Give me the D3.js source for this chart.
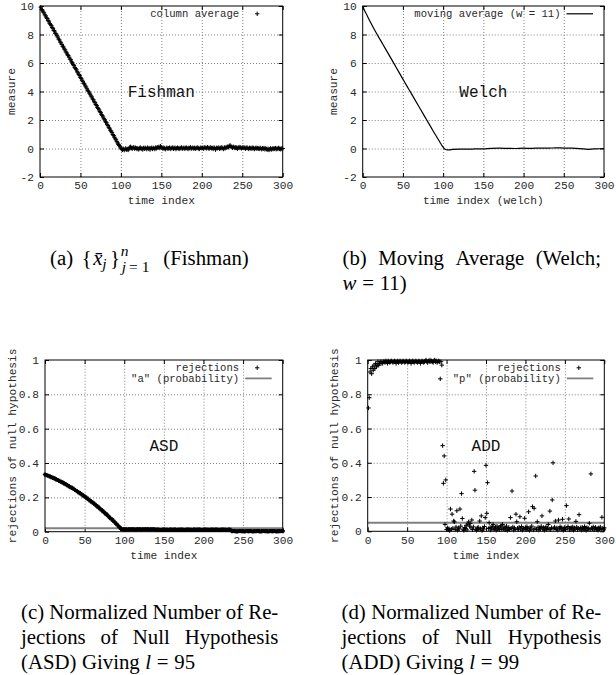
<!DOCTYPE html>
<html>
<head>
<meta charset="utf-8">
<script src="https://cdn.jsdelivr.net/npm/d3@7"></script>
<style>
  html, body { margin: 0; padding: 0; background: #fff; }
  svg { display: block; }
</style>
</head>
<body>
<svg id="fig" width="616" height="675"></svg>
<script>
// ---------------- data ----------------
const xTicks = [0, 50, 100, 150, 200, 250, 300];
const measureTicks = [-2, 0, 2, 4, 6, 8, 10];
const rejectionTicks = [0, 0.2, 0.4, 0.6, 0.8, 1];
const rejectionTickLabels = ["0", "0.2", "0.4", "0.6", "0.8", "1"];

// (a) column averages, time index 1..300
const fishmanIndex = d3.range(1, 301);
const fishmanMeasure = [
  9.92,9.75,9.71,9.58,9.52,9.38,9.31,9.18,9.12,8.97,
  8.93,8.78,8.71,8.62,8.49,8.43,8.28,8.24,8.08,8.03,
  7.91,7.82,7.68,7.62,7.47,7.41,7.30,7.18,7.12,6.98,
  6.92,6.78,6.71,6.58,6.52,6.41,6.28,6.23,6.08,6.02,
  5.89,5.83,5.68,5.61,5.52,5.38,5.31,5.19,5.12,4.98,
  4.92,4.79,4.71,4.58,4.52,4.39,4.31,4.19,4.08,4.01,
  3.89,3.81,3.69,3.62,3.48,3.42,3.28,3.22,3.09,3.02,
  2.88,2.81,2.71,2.59,2.52,2.38,2.31,2.21,2.09,2.02,
  1.88,1.82,1.69,1.61,1.49,1.42,1.28,1.21,1.11,0.98,
  0.91,0.79,0.68,0.61,0.48,0.39,0.28,0.21,0.12,0.03,
  -0.05,-0.09,-0.02,-0.11,-0.06,0.01,-0.08,-0.04,-0.10,-0.03,
  0.08,0.12,0.04,-0.02,0.06,0.09,-0.01,0.05,0.02,-0.04,
  0.03,-0.06,0.01,0.07,-0.03,0.02,-0.07,0.04,-0.02,0.05,
  0.01,-0.05,0.06,-0.01,0.03,-0.08,0.02,0.05,-0.03,0.04,
  0.02,-0.04,0.07,0.01,0.09,0.05,0.12,0.03,0.16,0.08,
  0.04,-0.02,0.06,0.01,-0.05,0.03,0.05,-0.01,0.02,0.06,
  -0.03,0.04,0.01,0.07,-0.02,0.03,0.05,-0.04,0.02,0.06,
  0.01,-0.03,0.04,0.02,0.07,-0.01,0.03,0.05,-0.02,0.04,
  0.06,0.01,-0.03,0.05,0.02,0.08,-0.01,0.03,0.06,0.00,
  0.04,-0.02,0.05,0.02,0.07,0.01,-0.03,0.04,0.06,0.02,
  0.05,-0.01,0.08,0.03,0.06,0.01,0.09,0.04,-0.02,0.05,
  0.07,0.02,0.04,-0.03,0.06,0.03,-0.08,0.05,0.01,0.04,
  0.06,-0.02,0.03,0.08,0.01,0.05,-0.04,0.07,0.02,0.10,
  0.06,0.13,0.09,0.18,0.22,0.14,0.10,0.05,0.12,0.07,
  0.03,0.09,0.05,-0.02,0.06,0.10,0.04,0.07,0.01,0.05,
  0.08,0.03,0.06,-0.01,0.04,0.07,0.02,-0.03,0.05,0.01,
  0.04,-0.02,0.06,0.03,-0.04,0.02,0.05,-0.01,0.03,0.00,
  -0.03,0.04,0.01,-0.05,0.02,-0.02,0.03,-0.06,0.01,-0.04,
  -0.08,-0.02,-0.10,-0.05,0.01,-0.07,-0.03,0.02,-0.04,-0.01,
  0.03,-0.05,0.01,-0.03,0.04,-0.02,-0.06,0.01,-0.03,0.00
];

// (b) Welch moving average, w = 11
const welchIndex = [0,2,5,10,15,20,25,30,35,40,45,50,55,60,65,70,75,80,85,90,
  95,97,99,101,103,105,108,112,120,130,140,150,160,170,180,190,200,210,220,230,
  240,250,260,270,280,285,290,300];
const welchMeasure = [10.0,9.72,9.38,8.82,8.30,7.80,7.32,6.83,6.34,5.85,5.36,4.87,4.38,3.90,3.41,2.93,2.45,1.96,1.48,1.00,
  0.54,0.35,0.17,0.02,-0.07,-0.10,-0.09,-0.06,-0.04,-0.05,-0.03,-0.02,0.01,0.02,0.01,0.00,0.02,0.01,0.03,0.02,
  0.05,0.03,0.02,-0.01,-0.06,-0.04,-0.02,0.00];

// (c) ASD rejections, time index 0,2,...,300
const asdIndex = d3.range(0, 301, 2);
const asdRejections = [
  .333,.329,.326,.322,.318,.314,.310,.305,.301,.296,
  .291,.287,.282,.277,.271,.266,.260,.255,.249,.243,
  .237,.231,.225,.218,.212,.205,.198,.191,.184,.177,
  .170,.163,.155,.147,.140,.132,.124,.115,.107,.099,
  .090,.081,.073,.064,.055,.046,.036,.027,.017,
  .013,.014,.013,.012,.014,.013,.013,.014,.012,.013,.014,.013,.012,.013,.014,.013,.013,.012,.014,.013,.013,
  .011,.012,.011,.010,.011,.012,.011,.011,.010,.012,.011,.011,.012,.010,.011,.011,.012,.011,.010,.011,
  .012,.011,.011,.010,.012,.011,.011,.012,.011,.010,.011,.012,.011,.011,.010,.012,.011,.011,.012,.011,
  .010,.011,.012,.011,.011,.010,.012,.011,
  .003,.004,.003,.002,.003,.004,.003,.003,.002,.004,.003,.003,.004,.002,.003,.003,.004,.003,.002,.003,
  .004,.003,.003,.002,.004,.003,.003,.004,.002,.003,.003,.004,.003
];
const asdLevel = 0.02;   // "a" (probability)

// (d) ADD rejections, time index 1..300
const addIndex = d3.range(1, 301);
const addRejections = [
  .72,.78,.93,.95,.92,.96,.94,.97,.95,.98,
  .96,.97,.99,.97,.98,.99,.98,.99,.98,.99,
  .99,.985,.995,.99,.98,.995,.99,.985,.99,.995,
  .99,.985,.99,.995,.99,.98,.99,.995,.985,.99,
  .995,.99,.985,.99,.995,.99,.985,.99,.995,.99,
  .985,.99,.995,.99,.98,.99,.995,.99,.985,.99,
  .995,.99,.985,.99,.995,.99,.98,.99,.995,.99,
  .985,.99,.995,1.0,.99,.985,.995,.99,1.0,.99,
  .995,.99,.985,.995,1.0,.99,.995,.985,.99,.995,
  .99,.89,.99,.97,.50,.28,.44,.04,.30,.01,
  .02,.008,.015,.004,.13,.012,.10,.018,.06,.055,
  .01,.025,.12,.006,.02,.014,.13,.03,.22,.075,
  .012,.004,.022,.016,.035,.008,.042,.055,.03,.045,
  .02,.066,.01,.026,.35,.24,.012,.005,.018,.024,
  .01,.06,.015,.09,.004,.02,.013,.028,.08,.385,
  .105,.284,.016,.05,.022,.007,.019,.03,.04,.011,
  .018,.025,.006,.03,.014,.02,.009,.026,.033,.012,
  .04,.015,.024,.008,.019,.03,.005,.014,.022,.01,
  .08,.017,.235,.025,.007,.02,.012,.10,.056,.018,
  .009,.024,.085,.013,.028,.006,.019,.015,.076,.022,
  .01,.027,.016,.114,.005,.021,.013,.03,.144,.008,
  .134,.018,.323,.011,.056,.024,.007,.02,.015,.029,
  .09,.012,.022,.006,.017,.026,.01,.019,.04,.014,
  .118,.009,.021,.183,.40,.016,.025,.06,.011,.02,
  .007,.066,.018,.027,.012,.021,.07,.005,.016,.024,
  .01,.15,.019,.028,.072,.008,.017,.022,.012,.026,
  .006,.02,.014,.058,.025,.01,.018,.097,.013,.021,
  .007,.024,.016,.011,.028,.019,.005,.022,.013,.017,
  .047,.009,.335,.02,.014,.026,.008,.018,.023,.011,
  .016,.006,.021,.013,.025,.009,.082,.017,.012,.02
];
const addLevel = 0.05;   // "p" (probability)

// ---------------- drawing ----------------
const MONO = "'Liberation Mono','Courier New',monospace";
const SERIF = "'Liberation Serif','Times New Roman',serif";
const TICK_FS = 11.2;
const INK = "#2a2a2a";
const svg = d3.select("#fig");
const plus = s => `M${-s},0H${s}M0,${-s}V${s}`;

function drawPanel(cfg) {
  const g = svg.append("g");
  const x = d3.scaleLinear().domain([0, 300]).range([cfg.left, cfg.right]);
  const y = d3.scaleLinear().domain(cfg.yDomain).range([cfg.bottom, cfg.top]);
  const w = cfg.right - cfg.left, h = cfg.bottom - cfg.top;

  // dotted grid at inner major ticks
  const gridX = g.append("g").attr("transform", `translate(0,${cfg.bottom})`)
    .call(d3.axisBottom(x).tickValues(xTicks.slice(1, -1)).tickSize(-h).tickFormat(""));
  const gridY = g.append("g").attr("transform", `translate(${cfg.left},0)`)
    .call(d3.axisLeft(y).tickValues(cfg.yTicks.slice(1, -1)).tickSize(-w).tickFormat(""));
  [gridX, gridY].forEach(gg => {
    gg.select(".domain").remove();
    gg.selectAll("line").attr("stroke", "#808080").attr("stroke-width", 1)
      .attr("stroke-dasharray", "1,2");
  });

  // labelled axes with inward ticks
  const xAxis = g.append("g").attr("transform", `translate(0,${cfg.bottom})`)
    .call(d3.axisBottom(x).tickValues(xTicks).tickSizeInner(-4).tickSizeOuter(0).tickPadding(4.5));
  const yAxis = g.append("g").attr("transform", `translate(${cfg.left},0)`)
    .call(d3.axisLeft(y).tickValues(cfg.yTicks).tickSizeInner(-4).tickSizeOuter(0).tickPadding(6)
      .tickFormat((d, i) => cfg.yLabels[i]));
  // mirrored ticks
  const xTop = g.append("g").attr("transform", `translate(0,${cfg.top})`)
    .call(d3.axisTop(x).tickValues(xTicks).tickSizeInner(-4).tickSizeOuter(0).tickFormat(""));
  const yRight = g.append("g").attr("transform", `translate(${cfg.right},0)`)
    .call(d3.axisRight(y).tickValues(cfg.yTicks).tickSizeInner(-4).tickSizeOuter(0).tickFormat(""));
  [xAxis, yAxis, xTop, yRight].forEach(a => {
    a.select(".domain").remove();
    a.attr("font-family", MONO).attr("font-size", TICK_FS);
    a.selectAll("line").attr("stroke", "#000").attr("stroke-width", 1);
    a.selectAll("text").attr("fill", INK);
  });

  // reference level line
  if (cfg.level !== undefined) {
    g.append("line")
      .attr("x1", x(0)).attr("x2", x(300))
      .attr("y1", y(cfg.level)).attr("y2", y(cfg.level))
      .attr("stroke", "#7f7f7f").attr("stroke-width", 1.8);
  }

  // series
  if (cfg.kind === "points") {
    g.append("g").selectAll("path").data(cfg.xs).join("path")
      .attr("d", plus(cfg.pointSize || 2.2))
      .attr("transform", (d, i) => `translate(${x(d)},${y(cfg.ys[i])})`)
      .attr("stroke", "#000").attr("stroke-width", cfg.pointWidth || 1).attr("fill", "none");
  } else {
    const line = d3.line().curve(d3.curveMonotoneX).x((d, i) => x(cfg.xs[i])).y(d => y(d));
    g.append("path").datum(cfg.ys).attr("d", line)
      .attr("fill", "none").attr("stroke", "#000").attr("stroke-width", 1.2)
      .attr("stroke-linejoin", "round");
  }

  // frame
  g.append("rect").attr("x", cfg.left).attr("y", cfg.top).attr("width", w).attr("height", h)
    .attr("fill", "none").attr("stroke", "#000").attr("stroke-width", 1);

  // axis titles
  g.append("text").attr("x", (cfg.left + cfg.right) / 2).attr("y", cfg.bottom + 27.3)
    .attr("text-anchor", "middle").attr("font-family", MONO).attr("font-size", TICK_FS)
    .attr("fill", INK).text(cfg.xTitle);
  g.append("text")
    .attr("transform", `translate(${cfg.yTitleX},${(cfg.top + cfg.bottom) / 2}) rotate(-90)`)
    .attr("text-anchor", "middle").attr("font-family", MONO).attr("font-size", TICK_FS)
    .attr("fill", INK).text(cfg.yTitle);

  // panel name inside the plot
  g.append("text").attr("x", x(150)).attr("y", y(cfg.nameAt)).attr("dy", "0.32em")
    .attr("text-anchor", "middle").attr("font-family", MONO).attr("font-size", 16)
    .attr("fill", "#111").text(cfg.name);

  // key
  const kx = cfg.right - 43.5;
  cfg.key.forEach((k, i) => {
    const cy = cfg.top + 7.8 + i * 10.6;
    g.append("text").attr("x", kx).attr("y", cy + 3.4).attr("text-anchor", "end")
      .attr("font-family", MONO).attr("font-size", 10.6).attr("fill", INK).text(k.label);
    if (k.type === "point") {
      g.append("path").attr("d", plus(2.2)).attr("transform", `translate(${cfg.right - 25.5},${cy})`)
        .attr("stroke", "#000").attr("stroke-width", 1).attr("fill", "none");
    } else {
      g.append("line").attr("x1", cfg.right - 37.5).attr("x2", cfg.right - 11)
        .attr("y1", cy).attr("y2", cy)
        .attr("stroke", k.color).attr("stroke-width", k.width);
    }
  });
}

drawPanel({
  left: 40, right: 282.7, top: 6, bottom: 177,
  yDomain: [-2, 10], yTicks: measureTicks, yLabels: measureTicks.map(String),
  xTitle: "time index", yTitle: "measure", yTitleX: 15.4,
  kind: "points", xs: fishmanIndex, ys: fishmanMeasure,
  name: "Fishman", nameAt: 4,
  key: [{ label: "column average", type: "point" }]
});

drawPanel({
  left: 362.7, right: 604, top: 6, bottom: 177,
  yDomain: [-2, 10], yTicks: measureTicks, yLabels: measureTicks.map(String),
  xTitle: "time index (welch)", yTitle: "measure", yTitleX: 337.4,
  kind: "line", xs: welchIndex, ys: welchMeasure,
  name: "Welch", nameAt: 4,
  key: [{ label: "moving average (w = 11)", type: "line", color: "#000", width: 1.2 }]
});

drawPanel({
  left: 45, right: 282.7, top: 360, bottom: 531.7,
  yDomain: [0, 1], yTicks: rejectionTicks, yLabels: rejectionTickLabels,
  xTitle: "time index", yTitle: "rejections of null hypothesis", yTitleX: 15.7,
  kind: "points", xs: asdIndex, ys: asdRejections, pointWidth: 2.2, pointSize: 2.1,
  level: asdLevel,
  name: "ASD", nameAt: 0.5,
  key: [{ label: "rejections", type: "point" },
        { label: "\"a\" (probability)", type: "line", color: "#7f7f7f", width: 1.8 }]
});

drawPanel({
  left: 367.7, right: 604.3, top: 360, bottom: 531.3,
  yDomain: [0, 1], yTicks: rejectionTicks, yLabels: rejectionTickLabels,
  xTitle: "time index", yTitle: "rejections of null hypothesis", yTitleX: 338.4,
  kind: "points", xs: addIndex, ys: addRejections,
  level: addLevel,
  name: "ADD", nameAt: 0.5,
  key: [{ label: "rejections", type: "point" },
        { label: "\"p\" (probability)", type: "line", color: "#7f7f7f", width: 1.8 }]
});

// ---------------- captions ----------------
const CAP = 20.8, SUB = 15.5;

function word(txt, x, y, opts = {}) {
  return svg.append("text").attr("x", x).attr("y", y)
    .attr("font-family", SERIF).attr("font-size", opts.size || CAP)
    .attr("font-style", opts.italic ? "italic" : "normal")
    .attr("fill", "#000").text(txt);
}

function justified(words, x0, x1, y) {
  const nodes = words.map(w => word(w, x0, y));
  const widths = nodes.map(n => n.node().getComputedTextLength());
  const gap = (x1 - x0 - d3.sum(widths)) / (words.length - 1);
  let cx = x0;
  nodes.forEach((n, i) => { n.attr("x", cx); cx += widths[i] + gap; });
}

// one text element whose pieces sit at given positions
function placed(pieces) {
  const t = svg.append("text").attr("font-family", SERIF).attr("font-size", CAP).attr("fill", "#000");
  pieces.forEach(p => t.append("tspan").attr("x", p.x).attr("y", p.y)
    .attr("font-size", p.size || CAP)
    .attr("font-style", p.italic ? "italic" : "normal").text(p.t));
}

// one text element whose pieces follow each other with the given gaps
function run(pieces, x0, y) {
  const t = svg.append("text").attr("y", y).attr("font-family", SERIF)
    .attr("font-size", CAP).attr("fill", "#000");
  let cx = x0;
  pieces.forEach(p => {
    cx += p.gap || 0;
    const s = t.append("tspan").attr("x", cx).attr("y", y)
      .attr("font-style", p.italic ? "italic" : "normal").text(p.t);
    cx += s.node().getComputedTextLength();
  });
}

// (a)  {x̄_j}^n_{j=1} (Fishman)
placed([
  { t: "(a)", x: 50, y: 265 },
  { t: "{", x: 81.7, y: 265 },
  { t: "x\u0304", x: 93.3, y: 265, italic: true },
  { t: "j", x: 102.3, y: 268.5, italic: true, size: SUB },
  { t: "}", x: 110, y: 265 },
  { t: "n", x: 120.7, y: 256, italic: true, size: SUB },
  { t: "j", x: 121.7, y: 272.3, italic: true, size: SUB },
  { t: "=", x: 129, y: 272.3, size: SUB },
  { t: "1", x: 141.7, y: 272.3, size: SUB },
  { t: "(Fishman)", x: 163.3, y: 265 }
]);

// (b)
justified(["(b)", "Moving", "Average", "(Welch;"], 342.5, 601, 265);
run([{ t: "w", italic: true }, { t: "=", gap: 5.8 }, { t: "11)", gap: 5.8 }], 342.5, 290);

// (c)
justified(["(c)", "Normalized", "Number", "of", "Re-"], 21, 278.3, 619);
justified(["jections", "of", "Null", "Hypothesis"], 21, 278.3, 644);
run([{ t: "(ASD)" }, { t: "Giving", gap: 5.5 }, { t: "l", italic: true, gap: 5.5 },
     { t: "=", gap: 5.8 }, { t: "95", gap: 5.8 }], 21, 669);

// (d)
justified(["(d)", "Normalized", "Number", "of", "Re-"], 341.5, 601.3, 619);
justified(["jections", "of", "Null", "Hypothesis"], 341.5, 601.3, 644);
run([{ t: "(ADD)" }, { t: "Giving", gap: 5.5 }, { t: "l", italic: true, gap: 5.5 },
     { t: "=", gap: 5.8 }, { t: "99", gap: 5.8 }], 341.5, 669);
</script>
</body>
</html>
